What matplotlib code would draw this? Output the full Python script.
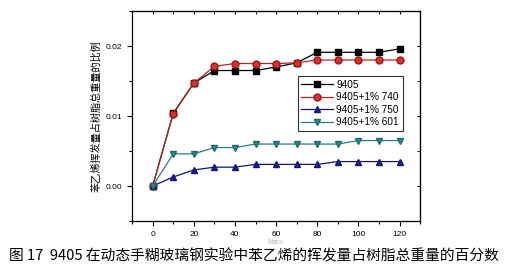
import matplotlib
matplotlib.use("Agg")
import matplotlib.pyplot as plt
from matplotlib.ticker import MultipleLocator

plt.rcParams['font.family'] = ['Liberation Sans', 'Noto Sans CJK SC', 'DejaVu Sans']

# --- data ---
hours = [0, 10, 20, 30, 40, 50, 60, 70, 80, 90, 100, 110, 120]
resin_9405 = [0, 0.0104, 0.0147, 0.0165, 0.0165, 0.0165, 0.0170, 0.0176,
              0.0191, 0.0191, 0.0191, 0.0191, 0.0196]
resin_740 = [0, 0.0103, 0.0147, 0.0171, 0.0175, 0.0175, 0.0175, 0.0176,
             0.0180, 0.0180, 0.0180, 0.0180, 0.0180]
resin_750 = [0, 0.0013, 0.0023, 0.0027, 0.0027, 0.0031, 0.0031, 0.0031,
             0.0031, 0.0035, 0.0035, 0.0035, 0.0035]
resin_601 = [0, 0.0046, 0.0046, 0.0055, 0.0055, 0.0060, 0.0060, 0.0060,
             0.0060, 0.0060, 0.0065, 0.0065, 0.0065]
labels = ["9405", "9405+1% 740", "9405+1% 750", "9405+1% 601"]

ylabel = "苯乙烯挥发量占树脂总重量的比例"
xlabel = "时间/h"
caption = "图 17  9405 在动态手糊玻璃钢实验中苯乙烯的挥发量占树脂总重量的百分数"

fig = plt.figure(figsize=(5.08, 2.68), dpi=100)
ax = fig.add_axes([0.26, 0.175, 0.567, 0.784])

styles = [
    dict(color="black", marker="s", mfc="black", mec="black"),
    dict(color="#b02828", marker="o", mfc="#d83030", mec="#a01818"),
    dict(color="#14147a", marker="^", mfc="#2020a0", mec="#14147a"),
    dict(color="#2e8080", marker="v", mfc="#2e8a8a", mec="#206a6a"),
]
for ys, lab, st in zip([resin_9405, resin_740, resin_750, resin_601], labels, styles):
    ax.plot(hours, ys, lw=0.9, ms=5, label=lab, **st)

ax.set_xlim(-10, 130)
ax.set_ylim(-0.005, 0.025)
ax.xaxis.set_major_locator(MultipleLocator(20))
ax.xaxis.set_minor_locator(MultipleLocator(10))
ax.yaxis.set_major_locator(MultipleLocator(0.01))
ax.yaxis.set_minor_locator(MultipleLocator(0.005))
ax.yaxis.set_major_formatter(plt.FuncFormatter(lambda v, p: f"{v:.2f}"))
ax.tick_params(which="both", direction="out", labelsize=6, width=0.8)
ax.tick_params(which="major", length=3.5)
ax.tick_params(which="minor", length=2)
for sp in ax.spines.values():
    sp.set_linewidth(0.9)

# inward ticks on top/right like Origin
ax_t = ax.secondary_xaxis("top")
ax_t.xaxis.set_major_locator(MultipleLocator(20))
ax_t.xaxis.set_minor_locator(MultipleLocator(10))
ax_t.tick_params(which="both", direction="in", labeltop=False, length=2)
ax_r = ax.secondary_yaxis("right")
ax_r.yaxis.set_major_locator(MultipleLocator(0.01))
ax_r.yaxis.set_minor_locator(MultipleLocator(0.005))
ax_r.tick_params(which="both", direction="in", labelright=False, length=2)

ax.set_ylabel(ylabel, family=["Noto Sans CJK SC"], fontsize=7.3, labelpad=3)
ax.set_xlabel(xlabel, family=["Noto Sans CJK SC"], fontsize=4, color="#b8b8b8", labelpad=1)

leg = ax.legend(loc="upper left", bbox_to_anchor=(0.576, 0.69), fontsize=7.2,
                frameon=True, fancybox=False, edgecolor="black",
                handlelength=3.2, handletextpad=0.3, borderpad=0.35,
                labelspacing=0.25, borderaxespad=0)
leg.get_frame().set_linewidth(0.8)

fig.text(0.5, 0.045, caption, ha="center", va="center", fontsize=10.6,
         family=["Noto Sans CJK SC", "DejaVu Sans"])

fig.savefig("out.png", dpi=100)
